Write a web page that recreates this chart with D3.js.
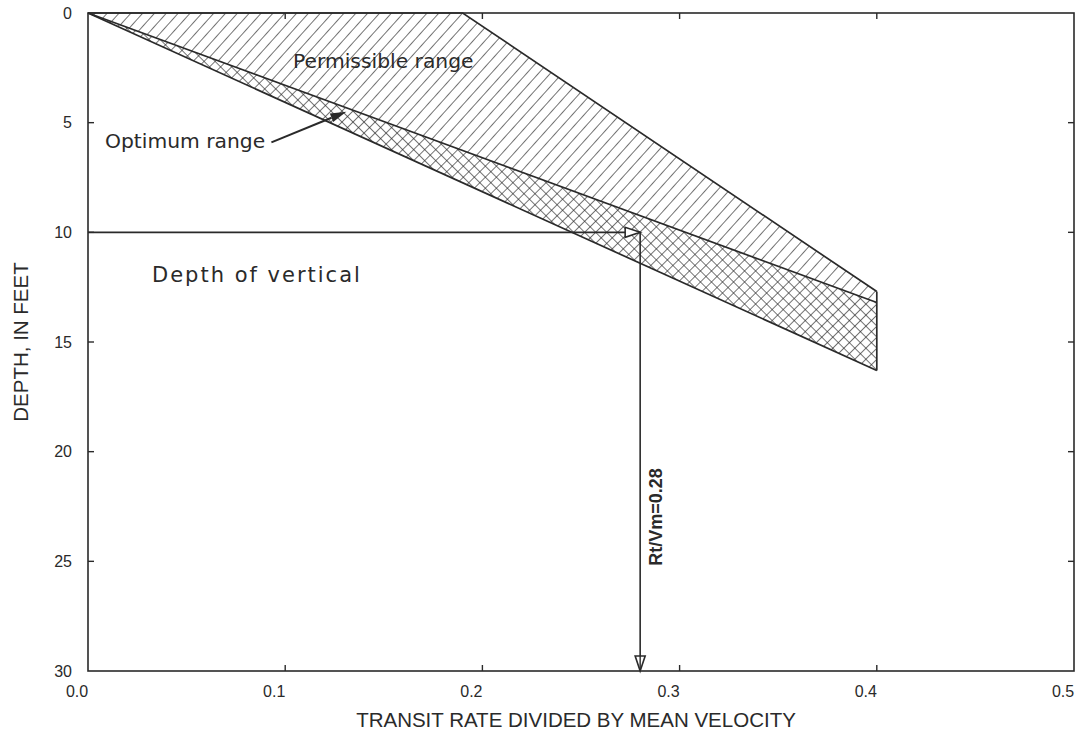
<!DOCTYPE html>
<html><head><meta charset="utf-8">
<script src="https://cdn.jsdelivr.net/npm/d3@7"></script>
<style>body{margin:0;background:#fff}svg{display:block}</style>
</head><body>
<svg id="c" width="1083" height="732"></svg>
<script>
// ---- data ----
const xTicks = [0.0, 0.1, 0.2, 0.3, 0.4, 0.5];
const yTicks = [0, 5, 10, 15, 20, 25, 30];
// permissible range boundary (x = Rt/Vm, depth in feet)
const permissibleUpper = [[0, 0], [0.19, 0], [0.4, 12.7]];
// optimum range boundaries
const optimumUpper = [[0, 0], [0.4, 13.2]];
const optimumLower = [[0, 0], [0.4, 16.3]];
const exampleDepth = 10;
const exampleRatio = 0.28;
const labels = ["Permissible range", "Optimum range", "Depth of vertical", "Rt/Vm=0.28"];
const xTitle = "TRANSIT RATE DIVIDED BY MEAN VELOCITY";
const yTitle = "DEPTH, IN FEET";

const svg = d3.select("#c");
const x = d3.scaleLinear().domain([0, 0.5]).range([88, 1074]);
const y = d3.scaleLinear().domain([0, 30]).range([13, 671]);
const ink = "#2a2a2a";

const defs = svg.append("defs");
const p1 = defs.append("pattern").attr("id","hatch").attr("patternUnits","userSpaceOnUse")
  .attr("width",8.8).attr("height",8.8).attr("patternTransform","rotate(42)");
p1.append("line").attr("x1",0).attr("y1",-1).attr("x2",0).attr("y2",10).attr("stroke",ink).attr("stroke-width",1.3);
const p2 = defs.append("pattern").attr("id","cross").attr("patternUnits","userSpaceOnUse")
  .attr("width",7.8).attr("height",7.8).attr("patternTransform","rotate(45)");
p2.append("line").attr("x1",0).attr("y1",-1).attr("x2",0).attr("y2",9).attr("stroke",ink).attr("stroke-width",1.3);
p2.append("line").attr("x1",-1).attr("y1",0).attr("x2",9).attr("y2",0).attr("stroke",ink).attr("stroke-width",1.3);

const line = d3.line().x(d => x(d[0])).y(d => y(d[1]));

// permissible polygon (above optimum band)
const permPoly = permissibleUpper.concat([optimumUpper[1]]);
svg.append("path").attr("d", line(permPoly) + "Z").attr("fill","url(#hatch)").attr("stroke","none");
// optimum polygon
const optPoly = [optimumUpper[0], optimumUpper[1], optimumLower[1]];
svg.append("path").attr("d", line(optPoly) + "Z").attr("fill","url(#cross)").attr("stroke","none");

// outlines
const outline = {fill:"none", stroke:ink, "stroke-width":1.7};
function drawPath(pts){ const p = svg.append("path").attr("d", line(pts)); for (const k in outline) p.attr(k, outline[k]); }
drawPath(permissibleUpper);
drawPath(optimumUpper);
drawPath(optimumLower);
drawPath([permissibleUpper[2], optimumLower[1]]);

// frame
svg.append("rect").attr("x", x(0)).attr("y", y(0)).attr("width", x(0.5)-x(0)).attr("height", y(30)-y(0))
  .attr("fill","none").attr("stroke",ink).attr("stroke-width",1.6);

// ticks (inward)
const tl = 6;
xTicks.slice(1,-1).forEach(t => {
  svg.append("line").attr("x1",x(t)).attr("x2",x(t)).attr("y1",y(30)).attr("y2",y(30)-tl).attr("stroke",ink).attr("stroke-width",1.4);
  svg.append("line").attr("x1",x(t)).attr("x2",x(t)).attr("y1",y(0)).attr("y2",y(0)+tl).attr("stroke",ink).attr("stroke-width",1.4);
});
yTicks.slice(1,-1).forEach(t => {
  svg.append("line").attr("x1",x(0)).attr("x2",x(0)+tl).attr("y1",y(t)).attr("y2",y(t)).attr("stroke",ink).attr("stroke-width",1.4);
  svg.append("line").attr("x1",x(0.5)).attr("x2",x(0.5)-tl).attr("y1",y(t)).attr("y2",y(t)).attr("stroke",ink).attr("stroke-width",1.4);
});

// tick labels
const tickFont = "'Liberation Sans', Arial, sans-serif";
svg.selectAll(".xl").data(xTicks).join("text")
  .attr("x", d => x(d) - 11).attr("y", 697).attr("text-anchor","middle")
  .attr("font-family", tickFont).attr("font-size", 16).attr("fill", ink)
  .text(d => d.toFixed(1));
svg.selectAll(".yl").data(yTicks).join("text")
  .attr("x", 72).attr("y", d => y(d)).attr("dy","0.36em").attr("text-anchor","end")
  .attr("font-family", tickFont).attr("font-size", 16).attr("fill", ink)
  .text(d => d);

// axis titles
const titleFont = "'Liberation Sans Narrow', 'Liberation Sans', sans-serif";
svg.append("text").attr("x", 576).attr("y", 727).attr("text-anchor","middle")
  .attr("font-family", titleFont).attr("font-size", 20.5).attr("fill", ink).text(xTitle);
svg.append("text").attr("transform","translate(28,342) rotate(-90)").attr("text-anchor","middle")
  .attr("font-family", titleFont).attr("font-size", 20.5).attr("fill", ink).text(yTitle);

// annotations
const annFont = "'DejaVu Sans', sans-serif";
svg.append("text").attr("x", 293).attr("y", 68).attr("font-family", annFont).attr("font-size", 20.3)
  .attr("fill", ink).text(labels[0]);
svg.append("text").attr("x", 105).attr("y", 148).attr("font-family", annFont).attr("font-size", 20.3)
  .attr("fill", ink).text(labels[1]);
svg.append("text").attr("x", 152).attr("y", 282).attr("font-family", annFont).attr("font-size", 21)
  .attr("letter-spacing", 2).attr("fill", ink).text(labels[2]);

// optimum range pointer (data coords)
const ptrFrom = [0.093, 5.9], ptrTo = [0.131, 4.5];
{
  const x1 = x(ptrFrom[0]), y1 = y(ptrFrom[1]), x2 = x(ptrTo[0]), y2 = y(ptrTo[1]);
  const ang = Math.atan2(y2 - y1, x2 - x1);
  const L = 16, W = 4.5;
  const bx = x2 - L*Math.cos(ang), by = y2 - L*Math.sin(ang);
  svg.append("line").attr("x1",x1).attr("y1",y1).attr("x2",bx).attr("y2",by).attr("stroke",ink).attr("stroke-width",2);
  svg.append("path").attr("d", `M${x2},${y2}L${bx - W*Math.sin(ang)},${by + W*Math.cos(ang)}L${bx + W*Math.sin(ang)},${by - W*Math.cos(ang)}Z`)
    .attr("fill", ink);
}

// depth-of-vertical arrow (horizontal) and ratio arrow (vertical)
const ax = x(exampleRatio), ay = y(exampleDepth);
svg.append("line").attr("x1", x(0)).attr("y1", ay).attr("x2", ax).attr("y2", ay).attr("stroke",ink).attr("stroke-width",1.6);
svg.append("path").attr("d", `M${ax},${ay}L${ax-15},${ay-5}L${ax-15},${ay+5}Z`).attr("fill","#fff").attr("stroke",ink).attr("stroke-width",1.6);
svg.append("line").attr("x1", ax).attr("y1", ay).attr("x2", ax).attr("y2", y(30)).attr("stroke",ink).attr("stroke-width",1.6);
svg.append("path").attr("d", `M${ax},${y(30)}L${ax-5},${y(30)-15}L${ax+5},${y(30)-15}Z`).attr("fill","#fff").attr("stroke",ink).attr("stroke-width",1.6);
svg.append("line").attr("x1", ax).attr("y1", y(30)-15).attr("x2", ax).attr("y2", y(30)).attr("stroke",ink).attr("stroke-width",1.4);

svg.append("text").attr("transform", `translate(${ax+22},517) rotate(-90)`).attr("text-anchor","middle")
  .attr("font-family", tickFont).attr("font-weight","bold").attr("font-size", 18).attr("fill", ink).text(labels[3]);
</script>
</body></html>
